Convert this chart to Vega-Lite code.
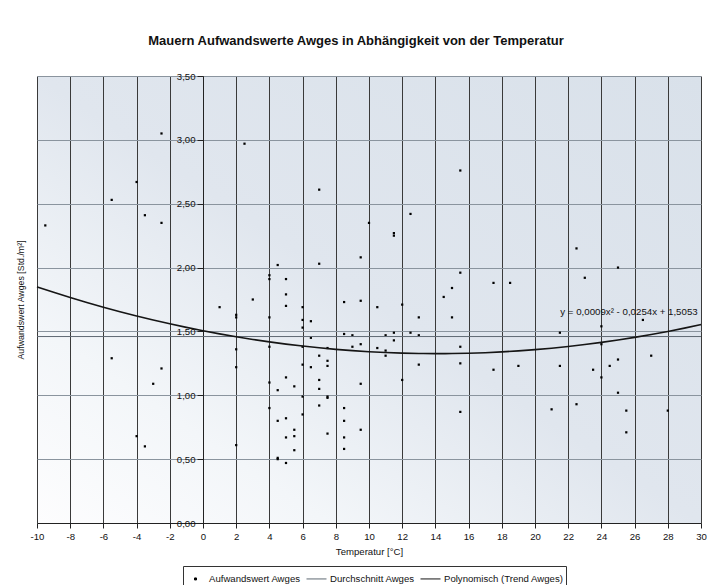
{
  "$schema": "https://vega.github.io/schema/vega-lite/v6.json",
  "width": 664,
  "height": 447,
  "autosize": {"type": "none"},
  "padding": {"left": 37, "top": 76, "right": 6, "bottom": 62},
  "background": "white",
  "title": {
    "text": "Mauern Aufwandswerte Awges in Abhängigkeit von der Temperatur",
    "font": "Liberation Sans",
    "fontSize": 13,
    "fontWeight": "bold",
    "color": "#111111",
    "anchor": "middle",
    "frame": "group",
    "dx": -13,
    "offset": 23
  },
  "config": {
    "font": "Liberation Sans",
    "view": {
      "stroke": null,
      "fill": {
        "gradient": "linear",
        "x1": 1, "y1": 0, "x2": 0, "y2": 1,
        "stops": [
          {"offset": 0, "color": "#d9e1ea"},
          {"offset": 0.5, "color": "#e0e6ee"},
          {"offset": 0.78, "color": "#f3f6f9"},
          {"offset": 1, "color": "#fdfdfe"}
        ]
      }
    },
    "axis": {
      "labelFont": "Liberation Sans",
      "titleFont": "Liberation Sans",
      "labelColor": "#111111",
      "titleColor": "#111111",
      "labelFontSize": 9.6,
      "titleFontWeight": "normal",
      "labelOverlap": false
    },
    "axisX": {
      "labelOverlap": false,
      "labelFlush": false,
      "labelSeparation": -40,
      "labelBound": false,
      "gridColor": "#3a3a3a",
      "domainColor": "#222222",
      "tickColor": "#222222",
      "tickSize": 5,
      "labelPadding": 3,
      "titlePadding": 6,
      "titleFontSize": 9.6
    },
    "axisY": {
      "labelOverlap": false,
      "gridColor": "#8a949e",
      "domainColor": "#222222",
      "tickColor": "#222222",
      "tickSize": 6,
      "labelPadding": 2,
      "titleFontSize": 8.8
    }
  },
  "datasets": {
    "messwerte": [
      {"t": -9.5, "awges": 2.33}, {"t": -5.5, "awges": 2.53}, {"t": -4, "awges": 2.67},
      {"t": -3.5, "awges": 2.41}, {"t": -2.5, "awges": 3.05}, {"t": -2.5, "awges": 2.35},
      {"t": -5.5, "awges": 1.29}, {"t": -3, "awges": 1.09}, {"t": -2.5, "awges": 1.21},
      {"t": -4, "awges": 0.68}, {"t": -3.5, "awges": 0.6},
      {"t": 1, "awges": 1.69},
      {"t": 2, "awges": 1.63}, {"t": 2, "awges": 1.61}, {"t": 2, "awges": 1.36}, {"t": 2, "awges": 1.22}, {"t": 2, "awges": 0.61},
      {"t": 2.5, "awges": 2.97},
      {"t": 3, "awges": 1.75},
      {"t": 4, "awges": 1.94}, {"t": 4, "awges": 1.91}, {"t": 4, "awges": 1.61}, {"t": 4, "awges": 1.38}, {"t": 4, "awges": 1.1}, {"t": 4, "awges": 0.9},
      {"t": 4.5, "awges": 2.02}, {"t": 4.5, "awges": 1.04}, {"t": 4.5, "awges": 0.8}, {"t": 4.5, "awges": 0.51}, {"t": 4.5, "awges": 0.5},
      {"t": 5, "awges": 1.91}, {"t": 5, "awges": 1.79}, {"t": 5, "awges": 1.7}, {"t": 5, "awges": 1.14}, {"t": 5, "awges": 0.82}, {"t": 5, "awges": 0.67}, {"t": 5, "awges": 0.47},
      {"t": 5.5, "awges": 1.07}, {"t": 5.5, "awges": 0.73}, {"t": 5.5, "awges": 0.68}, {"t": 5.5, "awges": 0.57},
      {"t": 6, "awges": 1.69}, {"t": 6, "awges": 1.59}, {"t": 6, "awges": 1.53}, {"t": 6, "awges": 1.38}, {"t": 6, "awges": 1.24}, {"t": 6, "awges": 0.99}, {"t": 6, "awges": 0.85},
      {"t": 6.5, "awges": 1.58}, {"t": 6.5, "awges": 1.45}, {"t": 6.5, "awges": 1.22},
      {"t": 7, "awges": 2.61}, {"t": 7, "awges": 2.03}, {"t": 7, "awges": 1.31}, {"t": 7, "awges": 1.12}, {"t": 7, "awges": 1.05}, {"t": 7, "awges": 0.92},
      {"t": 7.5, "awges": 1.37}, {"t": 7.5, "awges": 1.27}, {"t": 7.5, "awges": 1.23}, {"t": 7.5, "awges": 0.99}, {"t": 7.5, "awges": 0.98}, {"t": 7.5, "awges": 0.7},
      {"t": 8.5, "awges": 1.73}, {"t": 8.5, "awges": 1.48}, {"t": 8.5, "awges": 0.9}, {"t": 8.5, "awges": 0.8}, {"t": 8.5, "awges": 0.67}, {"t": 8.5, "awges": 0.58},
      {"t": 9, "awges": 1.47}, {"t": 9, "awges": 1.38},
      {"t": 9.5, "awges": 2.08}, {"t": 9.5, "awges": 1.74}, {"t": 9.5, "awges": 1.4}, {"t": 9.5, "awges": 1.09}, {"t": 9.5, "awges": 0.73},
      {"t": 10, "awges": 2.35},
      {"t": 10.5, "awges": 1.69}, {"t": 10.5, "awges": 1.37},
      {"t": 11, "awges": 1.47}, {"t": 11, "awges": 1.35}, {"t": 11, "awges": 1.31},
      {"t": 11.5, "awges": 2.27}, {"t": 11.5, "awges": 2.25}, {"t": 11.5, "awges": 1.49}, {"t": 11.5, "awges": 1.43},
      {"t": 12, "awges": 1.71}, {"t": 12, "awges": 1.12},
      {"t": 12.5, "awges": 2.42}, {"t": 12.5, "awges": 1.49},
      {"t": 13, "awges": 1.61}, {"t": 13, "awges": 1.47}, {"t": 13, "awges": 1.24},
      {"t": 14.5, "awges": 1.77},
      {"t": 15, "awges": 1.84}, {"t": 15, "awges": 1.61},
      {"t": 15.5, "awges": 2.76}, {"t": 15.5, "awges": 1.96}, {"t": 15.5, "awges": 1.38}, {"t": 15.5, "awges": 1.25}, {"t": 15.5, "awges": 0.87},
      {"t": 17.5, "awges": 1.88}, {"t": 17.5, "awges": 1.2},
      {"t": 18.5, "awges": 1.88},
      {"t": 19, "awges": 1.23},
      {"t": 21, "awges": 0.89},
      {"t": 21.5, "awges": 1.49}, {"t": 21.5, "awges": 1.23},
      {"t": 22.5, "awges": 2.15}, {"t": 22.5, "awges": 0.93},
      {"t": 23, "awges": 1.92},
      {"t": 23.5, "awges": 1.2},
      {"t": 24, "awges": 1.54}, {"t": 24, "awges": 1.4}, {"t": 24, "awges": 1.14},
      {"t": 24.5, "awges": 1.23},
      {"t": 25, "awges": 2.0}, {"t": 25, "awges": 1.28}, {"t": 25, "awges": 1.02},
      {"t": 25.5, "awges": 0.88}, {"t": 25.5, "awges": 0.71},
      {"t": 26.5, "awges": 1.59},
      {"t": 27, "awges": 1.31},
      {"t": 28, "awges": 0.88}
    ],
    "trend": [
      {"t": -10, "awges": 1.8493}, {"t": -9, "awges": 1.8068}, {"t": -8, "awges": 1.7661},
      {"t": -7, "awges": 1.7272}, {"t": -6, "awges": 1.6901}, {"t": -5, "awges": 1.6548},
      {"t": -4, "awges": 1.6213}, {"t": -3, "awges": 1.5896}, {"t": -2, "awges": 1.5597},
      {"t": -1, "awges": 1.5316}, {"t": 0, "awges": 1.5053}, {"t": 1, "awges": 1.4808},
      {"t": 2, "awges": 1.4581}, {"t": 3, "awges": 1.4372}, {"t": 4, "awges": 1.4181},
      {"t": 5, "awges": 1.4008}, {"t": 6, "awges": 1.3853}, {"t": 7, "awges": 1.3716},
      {"t": 8, "awges": 1.3597}, {"t": 9, "awges": 1.3496}, {"t": 10, "awges": 1.3413},
      {"t": 11, "awges": 1.3348}, {"t": 12, "awges": 1.3301}, {"t": 13, "awges": 1.3272},
      {"t": 14, "awges": 1.3261}, {"t": 15, "awges": 1.3268}, {"t": 16, "awges": 1.3293},
      {"t": 17, "awges": 1.3336}, {"t": 18, "awges": 1.3397}, {"t": 19, "awges": 1.3476},
      {"t": 20, "awges": 1.3573}, {"t": 21, "awges": 1.3688}, {"t": 22, "awges": 1.3821},
      {"t": 23, "awges": 1.3972}, {"t": 24, "awges": 1.4141}, {"t": 25, "awges": 1.4328},
      {"t": 26, "awges": 1.4533}, {"t": 27, "awges": 1.4756}, {"t": 28, "awges": 1.4997},
      {"t": 29, "awges": 1.5256}, {"t": 30, "awges": 1.5533}
    ],
    "durchschnitt": [{"awges": 1.46}]
  },
  "layer": [
    {
      "data": {"name": "messwerte"},
      "mark": {"type": "square", "size": 5, "opacity": 1},
      "encoding": {
        "x": {
          "field": "t",
          "type": "quantitative",
          "title": "Temperatur [°C]",
          "scale": {"domain": [-10, 30], "nice": false, "zero": false},
          "axis": {
            "values": [-10, -8, -6, -4, -2, 0, 2, 4, 6, 8, 10, 12, 14, 16, 18, 20, 22, 24, 26, 28, 30],
            "tickCount": 21,
            "labelExpr": "toString(datum.value)",
            "labelOverlap": false,
            "labelSeparation": -40,
            "grid": true
          }
        },
        "y": {
          "field": "awges",
          "type": "quantitative",
          "title": "Aufwandswert Awges [Std./m²]",
          "scale": {"domain": [0, 3.5], "nice": false, "zero": false},
          "axis": {
            "titleAngle": -90,
            "titleAlign": "center",
            "titleBaseline": "bottom",
            "titleX": -178,
            "titleY": 223.5,
            "offset": -166,
            "values": [0, 0.5, 1, 1.5, 2, 2.5, 3, 3.5],
            "labelExpr": "replace(format(datum.value, '.2f'), '.', ',')",
            "grid": true
          }
        },
        "color": {
          "datum": "Aufwandswert Awges",
          "type": "nominal",
          "scale": {
            "domain": ["Aufwandswert Awges", "Durchschnitt Awges", "Polynomisch (Trend Awges)"],
            "range": ["#000000", "#5f6973", "#151515"]
          },
          "legend": {
            "title": null,
            "orient": "none",
            "legendX": 146,
            "legendY": 490,
            "direction": "horizontal",
            "strokeColor": "#333333",
            "fillColor": "#ffffff",
            "padding": 2,
            "symbolType": {"expr": "datum.value === 'Aufwandswert Awges' ? 'M-0.1,-0.1H0.1V0.1H-0.1Z' : 'stroke'"},
            "symbolSize": 400,
            "symbolStrokeWidth": 1,
            "symbolStrokeColor": "#222222",
            "symbolFillColor": "#000000",
            "labelFont": "Liberation Sans",
            "labelFontSize": 9.6,
            "labelColor": "#111111",
            "labelOffset": 3,
            "columnPadding": 3
          }
        }
      }
    },
    {
      "data": {"name": "durchschnitt"},
      "mark": {"type": "rule", "strokeWidth": 1},
      "encoding": {
        "y": {"field": "awges", "type": "quantitative", "title": "Aufwandswert Awges [Std./m²]"},
        "color": {"datum": "Durchschnitt Awges", "type": "nominal", "legend": null}
      }
    },
    {
      "data": {"name": "trend"},
      "mark": {"type": "line", "strokeWidth": 1.6, "interpolate": "monotone"},
      "encoding": {
        "x": {"field": "t", "type": "quantitative", "title": "Temperatur [°C]"},
        "y": {"field": "awges", "type": "quantitative", "title": "Aufwandswert Awges [Std./m²]"},
        "color": {"datum": "Polynomisch (Trend Awges)", "type": "nominal", "legend": null}
      }
    },
    {
      "data": {"values": [{}]},
      "mark": {"type": "text", "align": "right", "baseline": "middle", "fontSize": 9.7, "color": "#111111", "font": "Liberation Sans"},
      "encoding": {
        "x": {"datum": 29.8, "type": "quantitative", "title": "Temperatur [°C]"},
        "y": {"datum": 1.652, "type": "quantitative", "title": "Aufwandswert Awges [Std./m²]"},
        "text": {"value": "y = 0,0009x² - 0,0254x + 1,5053"}
      }
    }
  ]
}
